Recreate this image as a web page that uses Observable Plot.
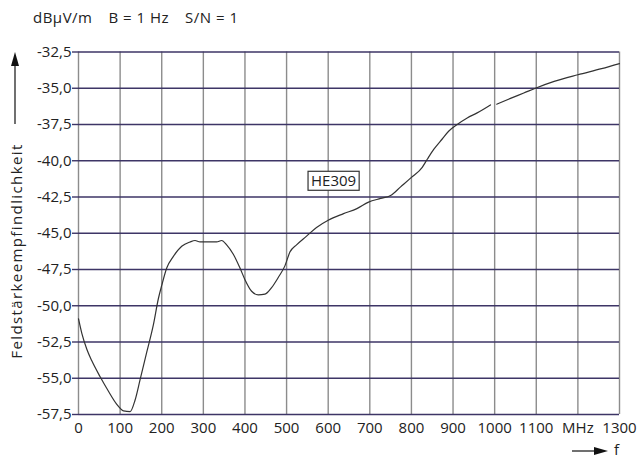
<!DOCTYPE html>
<html>
<head>
<meta charset="utf-8">
<script src="https://cdn.jsdelivr.net/npm/d3@7"></script>
<script src="https://cdn.jsdelivr.net/npm/@observablehq/plot@0.6"></script>
<style>
  html, body { margin: 0; padding: 0; background: #fff; }
  #chart svg { display: block; }
</style>
</head>
<body>
<div id="chart"></div>
<script>
// Frequency (MHz) and field-strength sensitivity (dBµV/m); null marks the gap in the trace
const freqs = [0, 8, 20, 32, 52, 72, 92, 108, 124, 136, 148, 164, 180, 192, 200, 212, 228, 248, 268, 280, 292,
  332, 344, 356, 372, 388, 400, 416, 432, 448, 464, 480, 496, 508, 524, 548, 572, 600, 637, 669, 697, 726,
  750, 774, 800, 826, 838, 854, 874, 890, 910, 934, 958, 990, 998, 1005, 1038, 1070, 1098, 1143, 1200, 1257, 1300];
const levels = [-50.9, -51.9, -53.0, -53.8, -54.9, -55.9, -56.8, -57.25, -57.3, -56.5, -55.1, -53.2, -51.3, -49.5, -48.6, -47.4, -46.6, -45.9, -45.6, -45.5, -45.6,
  -45.6, -45.5, -45.8, -46.45, -47.4, -48.2, -49.0, -49.25, -49.2, -48.75, -48.05, -47.25, -46.3, -45.8, -45.2, -44.6, -44.1, -43.65, -43.3, -42.85, -42.6,
  -42.4, -41.8, -41.15, -40.45, -39.9, -39.2, -38.5, -37.95, -37.5, -37.05, -36.7, -36.15, null, -36.1, -35.7, -35.33, -35.0, -34.53, -34.07, -33.65, -33.3];

const yTicks = [-32.5, -35, -37.5, -40, -42.5, -45, -47.5, -50, -52.5, -55, -57.5];
const xTicks = [0, 100, 200, 300, 400, 500, 600, 700, 800, 900, 1000, 1100, 1200, 1300];
const xTickLabels = ["0", "100", "200", "300", "400", "500", "600", "700", "800", "900", "1000", "1100", "MHz", "1300"];

const titleParts = ["dBµV/m", "B = 1 Hz", "S/N = 1"];
const yLabelText = "Feldstärkeempfindlichkeit";
const xLabelText = "f";

const noteText = ["HE309"];
const noteFreq = [613];
const noteLevel = [-41.43];

const trace = freqs.map((f, i) => ({f, v: levels[i]}));
const notes = noteText.map((t, i) => ({t, f: noteFreq[i], v: noteLevel[i]}));
const xLabelMap = new Map(xTicks.map((t, i) => [t, xTickLabels[i]]));

const FONT = "'Open Sans', sans-serif";
const W = 639, H = 460;

const plot = Plot.plot({
  width: W,
  height: H,
  marginLeft: 78,
  marginRight: 20,
  marginTop: 51.5,
  marginBottom: 46,
  style: {fontFamily: FONT, background: "#fff", color: "#222"},
  x: {domain: [0, 1300]},
  y: {domain: [-57.5, -32.5]},
  marks: [
    Plot.ruleX(xTicks, {stroke: "#8c8c8c", strokeWidth: 1.4}),
    Plot.ruleY(yTicks, {stroke: "#3d3566", strokeWidth: 1.5}),
    Plot.axisY(yTicks, {
      tickFormat: d => d.toFixed(1).replace(".", ","),
      tickSize: 6, tickPadding: 1, fontSize: 15, stroke: "#3d3566", strokeWidth: 1.4,
      label: null
    }),
    Plot.axisX(xTicks, {
      tickFormat: d => xLabelMap.get(d),
      tickSize: 0, tickPadding: 8, fontSize: 15, label: null
    }),
    Plot.line(trace, {x: "f", y: "v", stroke: "#333", strokeWidth: 1.2, curve: "monotone-x"}),
    Plot.text(notes, {x: "f", y: "v", text: "t", fontSize: 15, fill: "#222", className: "note"})
  ]
});

document.getElementById("chart").appendChild(plot);

const svg = d3.select(plot);

// box around the annotation
svg.selectAll(".note text").each(function() {
  const b = this.getBBox();
  d3.select(this.parentNode).insert("rect", () => this)
    .attr("transform", this.getAttribute("transform"))
    .attr("x", b.x - 3).attr("y", b.y + 1)
    .attr("width", b.width + 6).attr("height", b.height - 1)
    .attr("fill", "#fff").attr("stroke", "#333").attr("stroke-width", 1.2);
});

// title (three spaced parts)
const title = svg.append("text")
  .attr("x", 33).attr("y", 23)
  .attr("text-anchor", "start")
  .attr("font-family", FONT).attr("font-size", 15).attr("letter-spacing", 0.5).attr("fill", "#222");
title.selectAll("tspan").data(titleParts).join("tspan")
  .attr("dx", (d, i) => i === 0 ? 0 : 16)
  .text(d => d);

// y-axis label with arrow
svg.append("text")
  .attr("transform", "translate(22,251) rotate(-90)")
  .attr("text-anchor", "middle")
  .attr("font-family", FONT).attr("font-size", 15).attr("letter-spacing", 1.4).attr("fill", "#222")
  .text(yLabelText);
svg.append("line").attr("x1", 15).attr("x2", 15).attr("y1", 124).attr("y2", 62)
  .attr("stroke", "#111").attr("stroke-width", 1.2);
svg.append("path").attr("d", "M15,52 L11,66 L19,66 Z").attr("fill", "#111");

// x-axis label with arrow
svg.append("line").attr("x1", 572).attr("x2", 598).attr("y1", 451).attr("y2", 451)
  .attr("stroke", "#111").attr("stroke-width", 1.2);
svg.append("path").attr("d", "M608,451 L594,447 L594,455 Z").attr("fill", "#111");
svg.append("text")
  .attr("x", 614).attr("y", 455)
  .attr("text-anchor", "start")
  .attr("font-family", FONT).attr("font-size", 15).attr("fill", "#222")
  .text(xLabelText);
</script>
</body>
</html>
